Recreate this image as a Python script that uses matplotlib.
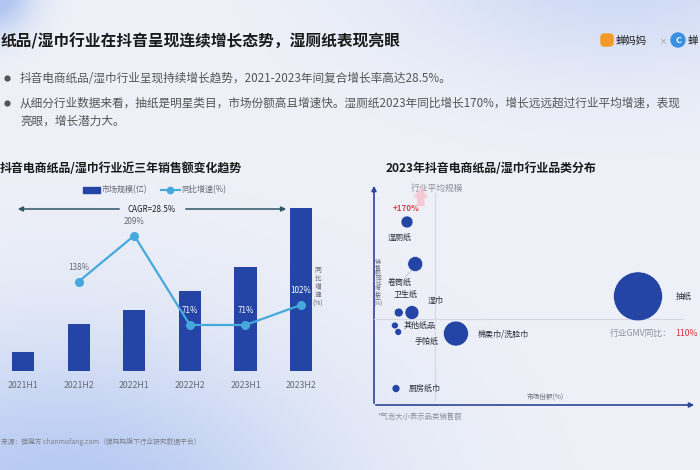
import numpy as np
import matplotlib.pyplot as plt
from matplotlib.patches import Rectangle, Circle, FancyBboxPatch

plt.rcParams['font.family'] = ['Noto Sans CJK SC', 'DejaVu Sans']

# data
periods = ['2021H1', '2021H2', '2022H1', '2022H2', '2023H1', '2023H2']
market_size = [19, 47, 61, 80, 104, 163]          # 市场规模(亿)
yoy_growth = [None, 138, 209, 71, 71, 102]        # 同比增速(%)
cagr_text = 'CAGR=28.5%'

categories = ['抽纸', '棉柔巾/洗脸巾', '湿厕纸', '卷筒纸', '湿巾', '卫生纸', '其他纸品', '手帕纸', '厨房纸巾']
share = [48.0, 14.9, 6.0, 7.5, 6.9, 4.5, 3.8, 4.4, 4.0]          # 市场份额(%)
growth = [124, 101, 170, 144, 114, 114, 106, 102, 67]             # 销售额同比增长率(%)
sales = [600, 156, 36, 56, 49, 20, 12, 12, 16]                    # 气泡大小 ~ 销售额
avg_share = 100 / len(categories)
industry_gmv_yoy = 110

navy = '#2444a6'
sky = '#45a9dc'
gray = '#666a73'

fig = plt.figure(figsize=(7, 4.7), dpi=100)

# background
bg = fig.add_axes([0, 0, 1, 1])
bg.set_xlim(0, 700)
bg.set_ylim(470, 0)
bg.axis('off')
yy, xx = np.mgrid[0:470, 0:700]
base = np.array([0.937, 0.945, 0.972])
blue = np.array([0.70, 0.78, 0.95])
w1 = np.exp(-(((xx - 60) / 270.0) ** 2 + ((yy - 520) / 180.0) ** 2))
w2 = np.exp(-(((xx - 620) / 220.0) ** 2 + ((yy + 40) / 110.0) ** 2)) * 0.6
w3 = np.exp(-(((xx + 10) / 40.0) ** 2 + ((yy + 10) / 40.0) ** 2)) * 1.4
w = np.clip(w1 + w2 + w3, 0, 1)[..., None]
img = base * (1 - w) + blue * w
bg.imshow(img, extent=[0, 700, 470, 0], aspect='auto', zorder=0)

# header
bg.text(1, 41, '纸品/湿巾行业在抖音呈现连续增长态势，湿厕纸表现亮眼', fontsize=11.3,
        fontweight='bold', color='#1a1a1a', va='center', ha='left')
bg.add_patch(FancyBboxPatch((601, 34), 12, 12, boxstyle='round,pad=0,rounding_size=3',
                            color='#f39a26', zorder=2))
bg.text(616, 41, '蝉妈妈', fontsize=7.5, color='#222', va='center', ha='left')
bg.text(663, 41, '×', fontsize=5, color='#888', va='center', ha='center')
bg.add_patch(Circle((678, 40), 7, color='#3b8fe0', zorder=2))
bg.text(678, 40.5, 'C', fontsize=6.5, color='white', fontweight='bold', va='center', ha='center', zorder=3)
bg.text(688, 41, '蝉', fontsize=7.5, color='#222', va='center', ha='left')

bullets = ['抖音电商纸品/湿巾行业呈现持续增长趋势，2021-2023年间复合增长率高达28.5%。',
           '从细分行业数据来看，抽纸是明星类目，市场份额高且增速快。湿厕纸2023年同比增长170%，增长远远超过行业平均增速，表现']
for yb, t in zip([78, 103], bullets):
    bg.plot(7, yb, 'o', color='#555', ms=3.5)
    bg.text(20, yb, t, fontsize=8.4, color='#555', va='center', ha='left')
bg.text(20, 121, '亮眼，增长潜力大。', fontsize=8.4, color='#555', va='center', ha='left')

# left chart title + legend
bg.text(0, 169, '抖音电商纸品/湿巾行业近三年销售额变化趋势', fontsize=8.6, fontweight='bold',
        color='#1a1a1a', va='center', ha='left')
bg.add_patch(Rectangle((83, 187), 17, 6, color=navy))
bg.text(102, 190, '市场规模(亿)', fontsize=5.8, color=gray, va='center', ha='left')
bg.plot([161, 180], [190, 190], color=sky, lw=1.5)
bg.plot(170, 190, 'o', color=sky, ms=4.5)
bg.text(181, 190, '同比增速(%)', fontsize=5.8, color=gray, va='center', ha='left')

# CAGR arrow
bg.annotate('', xy=(15, 209), xytext=(122, 209),
            arrowprops=dict(arrowstyle='-|>', color='#2e5566', lw=1.1, mutation_scale=7))
bg.annotate('', xy=(289, 209), xytext=(183, 209),
            arrowprops=dict(arrowstyle='-|>', color='#2e5566', lw=1.1, mutation_scale=7))
bg.text(152, 209, cagr_text, fontsize=5.8, color='#222', va='center', ha='center')

# left chart
ax = fig.add_axes([0, 99 / 470, 330 / 700, 171 / 470])
ax.patch.set_alpha(0)
x = np.arange(len(periods))
ax.bar(x, market_size, width=0.4, color=navy, zorder=2)
ax.set_xlim(-0.414, 5.52)
ax.set_ylim(0, 171)
ax.axhline(0, color='#dde1ea', lw=1, zorder=1)
for s in ax.spines.values():
    s.set_visible(False)
ax.set_yticks([])
ax.set_xticks(x)
ax.set_xticklabels(periods, fontsize=6.3, color=gray)
ax.tick_params(axis='x', length=0, pad=7)

ax2 = ax.twinx()
ax2.patch.set_alpha(0)
ax2.set_ylim(0, 171 / 0.648)
gx = [i for i, g in enumerate(yoy_growth) if g is not None]
gy = [g for g in yoy_growth if g is not None]
ax2.plot(gx, gy, color=sky, lw=1.6, marker='o', ms=5.5, zorder=3)
for i, g in zip(gx, gy):
    on_bar = market_size[i] * 1.0 > g * 0.648
    ax2.annotate(f'{g}%', (i, g), xytext=(0, 7), textcoords='offset points',
                 ha='center', va='bottom', fontsize=5.8,
                 color='white' if on_bar else gray)
for s in ax2.spines.values():
    s.set_visible(False)
ax2.set_yticks([])
bg.text(318, 287, '\n'.join('同比增速') + '\n(%)', fontsize=4.8, color=gray, va='center',
        ha='center', linespacing=1.05)

# right chart title
bg.text(386, 169, '2023年抖音电商纸品/湿巾行业品类分布', fontsize=8.6, fontweight='bold',
        color='#1a1a1a', va='center', ha='left')

# bubble chart
bx = fig.add_axes([374 / 700, 65 / 470, 321 / 700, 220 / 470])
bx.patch.set_alpha(0)
bx.set_xlim(0, 321 / 5.5)
bx.set_ylim(110 - 86 / 1.617, 110 + 134 / 1.617)
bx.axis('off')
bx.plot([avg_share, avg_share], [bx.get_ylim()[0] + 3, 188], color='#d3d8e2', lw=0.8, zorder=1)
bx.plot([0, 56.2], [industry_gmv_yoy, industry_gmv_yoy], color='#d3d8e2', lw=0.8, zorder=1)
bx.scatter(share, growth, s=np.array(sales) * 2.07, color=navy, edgecolors='white',
           linewidths=0.4, zorder=3)

lab = dict(fontsize=5.8, color='#2a2f3a', va='center')
offsets = {'抽纸': (27, 0, 'left'), '棉柔巾/洗脸巾': (16, 0, 'left'), '湿厕纸': (-5, -11, 'center'),
           '卷筒纸': (-11, -13, 'center'), '湿巾': (11, 9, 'left'), '卫生纸': (5, 13, 'center'),
           '其他纸品': (6, 0, 'left'), '手帕纸': (12, -7, 'left'), '厨房纸巾': (9, 0, 'left')}
for c, xs, yg in zip(categories, share, growth):
    dx, dy, ha = offsets[c]
    bx.annotate(c, (xs, yg), xytext=(dx, dy), textcoords='offset points', ha=ha, **lab)
bx.annotate('', (7.2, 141), xytext=(5.3, 135),
            arrowprops=dict(arrowstyle='-', color='#b8bfcc', lw=0.6))
bx.annotate('+170%', (share[2], growth[2]), xytext=(-1, 10), textcoords='offset points',
            ha='center', va='center', fontsize=5.8, color='#d64550', fontweight='bold')
bx.annotate('', (8.5, 193), xytext=(8.5, 178),
            arrowprops=dict(arrowstyle='simple,head_width=1.2,head_length=0.8,tail_width=0.6',
                            color='#f6c9d4', lw=0, mutation_scale=9))

bg.text(437, 188, '行业平均规模', fontsize=6.3, color='#8a8f99', va='center', ha='center')
bg.text(698, 333, f'{industry_gmv_yoy}%', fontsize=6.3, color='#d62f3a', va='center', ha='right')
bg.text(672, 333, '行业GMV同比：', fontsize=6.3, color='#8a8f99', va='center', ha='right')
bg.text(378, 283, '\n'.join('销售额同比增长率') + '\n(%)', fontsize=4.2, color=gray, va='center',
        ha='center', linespacing=0.95)
bg.text(545, 397, '市场份额(%)', fontsize=4.8, color=gray, va='center', ha='center')
bg.text(378, 417, '*气泡大小表示品类销售额', fontsize=5.3, color='#8a8f99', va='center', ha='left')

# axes arrows
bg.annotate('', xy=(374, 183), xytext=(374, 406),
            arrowprops=dict(arrowstyle='-|>', color='#2e4596', lw=1.2, mutation_scale=7))
bg.annotate('', xy=(697, 405), xytext=(373, 405),
            arrowprops=dict(arrowstyle='-|>', color='#2e4596', lw=1.2, mutation_scale=7))

bg.text(1, 442, '来源：蝉魔方 chanmofang.com（蝉妈妈旗下行业研究数据平台）', fontsize=4.9,
        color='#7d828c', va='center', ha='left')

fig.savefig('out.png', dpi=100)
